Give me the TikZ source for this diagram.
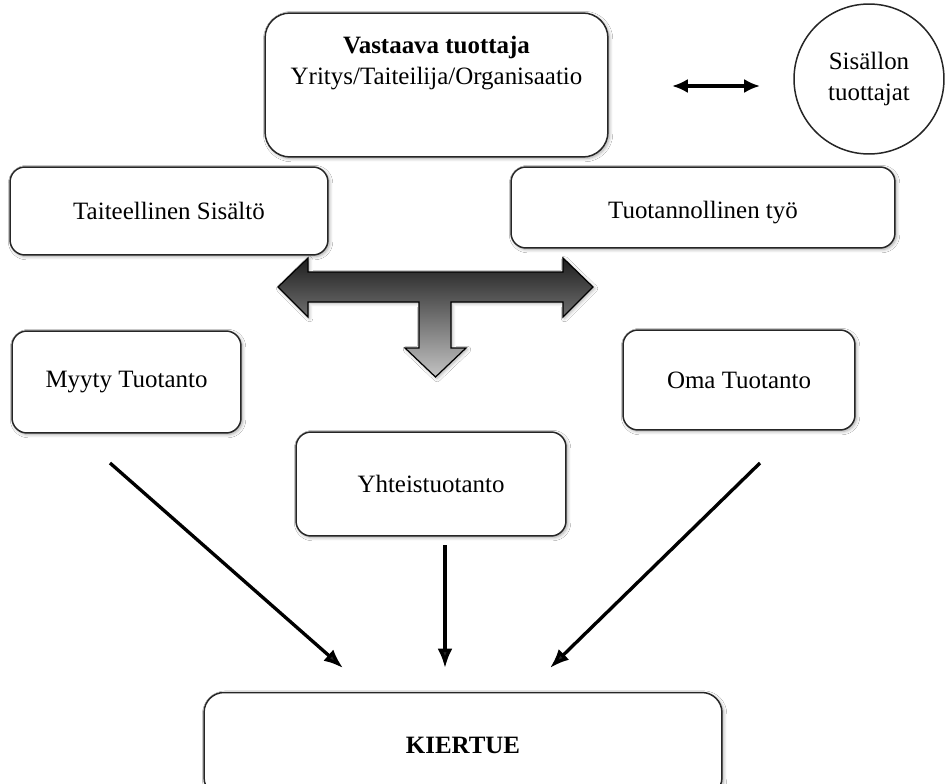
\documentclass[tikz,border=0pt]{standalone}
\usepackage{fontspec}
\setmainfont{Liberation Serif}
\usetikzlibrary{arrows.meta,shadows.blur}

\definecolor{shadetop}{RGB}{30,30,30}
\definecolor{shadebottom}{RGB}{195,195,195}

\tikzset{
  px/.style={x=0.02cm,y=-0.02cm},
  box/.style={draw=black!85, line width=0.85pt, fill=white, rounded corners=0.3cm,
    inner sep=0pt, font=\fontsize{14.2}{17}\selectfont,
    blur shadow={shadow xshift=0.9pt, shadow yshift=-0.9pt, shadow opacity=35, shadow blur steps=6}},
  bigbox/.style={box, rounded corners=0.5cm},
  roundbox/.style={draw=black!85, line width=0.85pt, fill=white, circle, inner sep=0pt,
    font=\fontsize{14.2}{17.5}\selectfont, align=center},
  flow/.style={line width=1.9pt, -{Latex[length=11pt,width=8.5pt]}},
  both/.style={line width=1.9pt, {Latex[length=9pt,width=8pt]}-{Latex[length=9pt,width=8pt]}},
  txt/.style={font=\fontsize{14.2}{17.5}\selectfont, align=center, inner sep=0pt}
}

\begin{document}
\begin{tikzpicture}[px]
  \clip (0,0) rectangle (947,784);
  \fill[white] (0,0) rectangle (947,784);

  % responsible producer and content producers
  \node[bigbox, minimum width=6.86cm, minimum height=2.88cm] (vt) at (436.5,85) {};
  \node[txt] (vttext) at (436.5,63) {\textbf{Vastaava tuottaja}\\Yritys/Taiteilija/Organisaatio};
  \node[roundbox, minimum size=3.0cm] (st) at (869,79) {Sisällon\\tuottajat};
  \coordinate (dl) at (672,86);
  \coordinate (dr) at (760,86);
  \draw[both] (dl) -- (dr);

  % content and production work
  \node[box, minimum width=6.36cm, minimum height=1.76cm] (ts) at (169,211) {Taiteellinen Sisältö};
  \node[box, minimum width=7.68cm, minimum height=1.62cm] (tt) at (703,207.5)
    {\raisebox{-6.2pt}[0pt][0pt]{Tuotannollinen työ}};

  % T-shaped shaded arrow
  \shade[top color=shadetop, bottom color=shadebottom, draw=black, line width=0.7pt,
    blur shadow={shadow xshift=0.9pt, shadow yshift=-0.9pt, shadow opacity=30, shadow blur steps=6}]
    (278,287) -- (308,258) -- (308,272) -- (563,272) -- (563,258) -- (593,287)
    -- (563,317) -- (563,302) -- (451,302) -- (451,348) -- (466,348) -- (435.5,377)
    -- (405,348) -- (419,348) -- (419,302) -- (308,302) -- (308,317) -- cycle;

  % production types
  \node[box, minimum width=4.58cm, minimum height=2.04cm] (mt) at (126.5,382) {Myyty Tuotanto};
  \node[box, minimum width=4.64cm, minimum height=2.0cm] (ot) at (739,380) {Oma Tuotanto};
  \node[box, minimum width=5.4cm, minimum height=2.08cm] (yt) at (431,484) {Yhteistuotanto};

  % tour
  \node[box, rounded corners=0.4cm, minimum width=10.36cm, minimum height=2.1cm,
    font=\fontsize{14.2}{17}\selectfont\bfseries] (ki) at (463,745) {KIERTUE};

  % flows into the tour
  \coordinate (a1) at (110,463);
  \coordinate (a1e) at (343,668);
  \coordinate (a2) at (445,545);
  \coordinate (a2e) at (445,668);
  \coordinate (a3) at (760,463);
  \coordinate (a3e) at (550,668);
  \draw[flow] (a1) -- (a1e);
  \draw[flow] (a2) -- (a2e);
  \draw[flow] (a3) -- (a3e);
\end{tikzpicture}
\end{document}
